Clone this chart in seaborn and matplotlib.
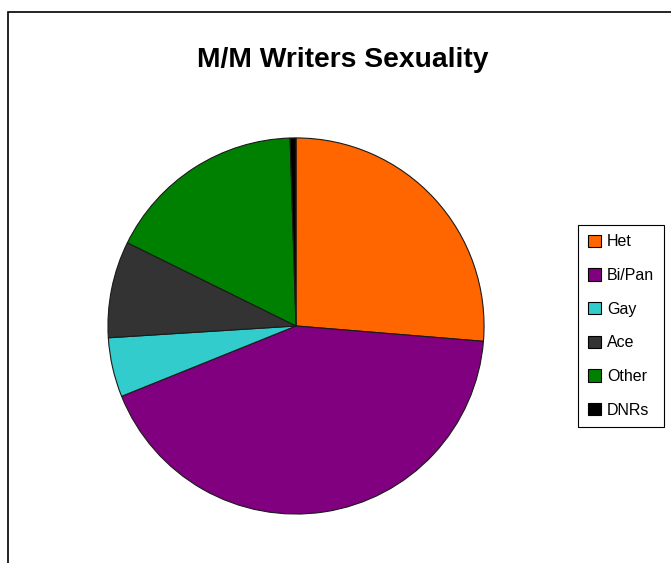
import matplotlib
matplotlib.use("Agg")
import matplotlib.pyplot as plt
import matplotlib.patches as mpatches
import seaborn as sns

# data (percent of respondents)
categories = ["Het", "Bi/Pan", "Gay", "Ace", "Other", "DNRs"]
shares = [26.3, 42.6, 5.1, 8.3, 17.2, 0.5]
colors = ["#FF6600", "#800080", "#33CCCC", "#333333", "#008000", "#000000"]

sns.set_theme(style="white")
plt.rcParams["font.family"] = ["Liberation Sans", "DejaVu Sans"]
plt.rcParams["text.color"] = "black"

fig = plt.figure(figsize=(6.71, 5.63), dpi=100)
fig.patch.set_facecolor("white")

# outer chart-area frame (runs off the right/bottom edge like the screenshot)
frame = mpatches.Rectangle((8 / 671, -0.1), 1.2, 1 - 12 / 563 + 0.1,
                           transform=fig.transFigure, fill=False,
                           edgecolor="black", linewidth=1.2)
fig.patches.append(frame)

ax = fig.add_axes([0.1595, 0.0853, 0.5633, 0.6714])
wedges, _ = ax.pie(shares, colors=colors, startangle=90, counterclock=False,
                   wedgeprops=dict(edgecolor="#1a1a1a", linewidth=0.8))
ax.set_xlim(-1.005, 1.005)
ax.set_ylim(-1.005, 1.005)
ax.set_aspect("equal")
ax.axis("off")

fig.text(0.511, 0.893, "M/M Writers Sexuality", ha="center", va="center",
         fontsize=20.3, fontweight="bold", color="black")

handles = [mpatches.Patch(facecolor=c, edgecolor="black", linewidth=0.8) for c in colors]
leg = fig.legend(handles, categories, loc="center", bbox_to_anchor=(0.9255, 0.421),
                 fontsize=11.5, frameon=True, fancybox=False, shadow=False,
                 handlelength=0.8, handleheight=0.8, handletextpad=0.4,
                 labelspacing=1.17, borderpad=0.6, borderaxespad=0)
leg.get_frame().set_edgecolor("black")
leg.get_frame().set_linewidth(0.8)
leg.get_frame().set_alpha(1)
for t in leg.get_texts():
    t.set_color("black")

plt.savefig("out.png", dpi=100)
plt.close()
